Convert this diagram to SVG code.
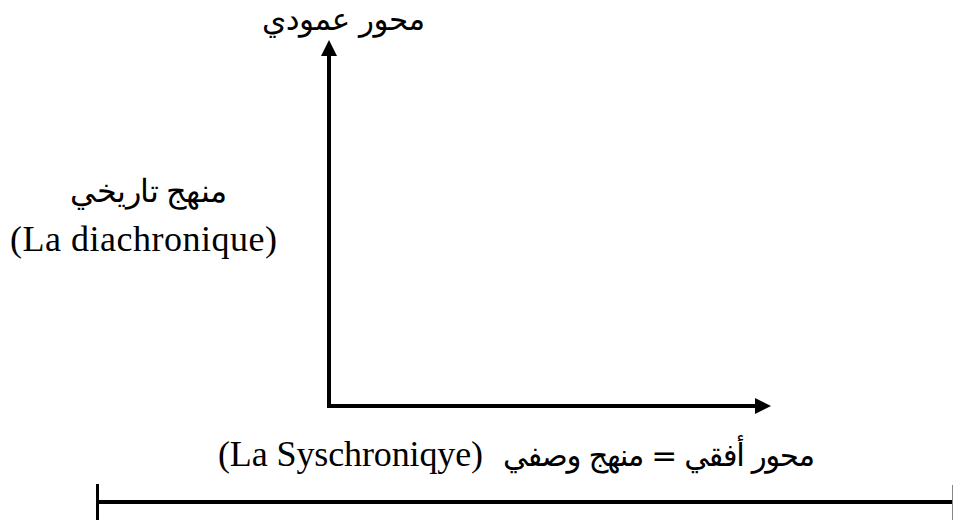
<svg xmlns="http://www.w3.org/2000/svg" width="954" height="521" viewBox="0 0 954 521">
<style>
.ar{font-family:"DejaVu Sans","Noto Sans",sans-serif;font-size:31px;fill:#000}
.ars{font-family:"Liberation Serif","DejaVu Serif",serif;font-size:32px;fill:#000}
.lat{font-family:"Liberation Serif","Times New Roman",serif;font-size:36px;fill:#000}
.ax{stroke:#000;stroke-width:4;fill:none}
</style>
<defs>
<marker id="ah" markerWidth="4" markerHeight="4" refX="0" refY="2" orient="auto" markerUnits="strokeWidth">
<path d="M0,0 L4,2 L0,4 Z" fill="#000"/>
</marker>
</defs>
<rect width="954" height="521" fill="#fff"/>
<g id="connectors">
<path class="ax" d="M329,408 L329,56" marker-end="url(#ah)"/>
<path class="ax" d="M327,406 L755,406" marker-end="url(#ah)"/>
<path class="ax" d="M97,502 L953,502"/>
<line x1="97.5" y1="484" x2="97.5" y2="520" stroke="#000" stroke-width="3"/>
<line x1="952.5" y1="485" x2="952.5" y2="520" stroke="#888" stroke-width="1"/>
</g>
<g id="vertical-label">
<text class="ar" x="425" y="30" text-anchor="start" direction="rtl" textLength="163">محور عمودي</text>
</g>
<g id="diachronic-label">
<text class="ars" x="227" y="202" text-anchor="start" direction="rtl" textLength="157">منهج تاريخي</text>
<text class="lat" x="10" y="251" textLength="267">(La diachronique)</text>
</g>
<g id="horizontal-label">
<text class="lat" x="218" y="466" textLength="265">(La Syschroniqye)</text>
<text class="ar" x="815" y="466" text-anchor="start" direction="rtl" textLength="312">محور أفقي = منهج وصفي</text>
</g>
</svg>
